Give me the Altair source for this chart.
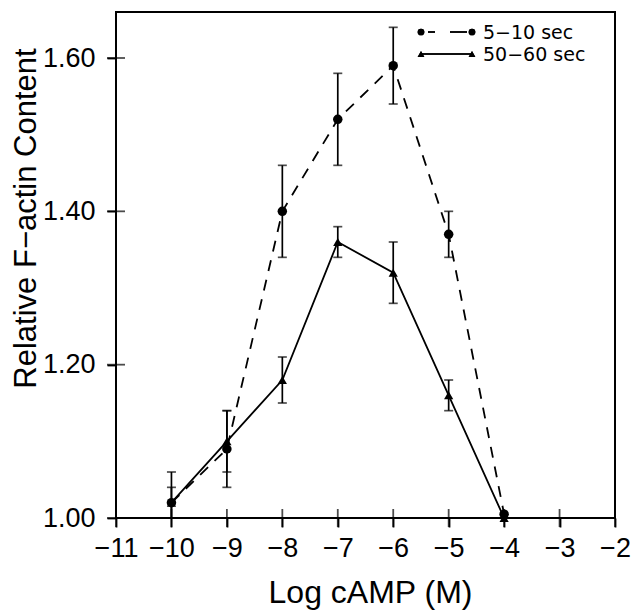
import altair as alt
import pandas as pd

# ---- data ----
log_camp = [-10, -9, -8, -7, -6, -5, -4]
series_names = ["5−10 sec", "50−60 sec"]
early_mean = [1.02, 1.09, 1.40, 1.52, 1.59, 1.37, 1.005]
early_err = [0.04, 0.05, 0.06, 0.06, 0.05, 0.03, 0.0]
late_mean = [1.02, 1.10, 1.18, 1.36, 1.32, 1.16, 1.00]
late_err = [0.02, 0.04, 0.03, 0.02, 0.04, 0.02, 0.0]
x_ticks = [-11, -10, -9, -8, -7, -6, -5, -4, -3, -2]
y_ticks = [1.00, 1.20, 1.40, 1.60]

rows = []
for name, means, errs in [(series_names[0], early_mean, early_err),
                          (series_names[1], late_mean, late_err)]:
    for xv, mv, ev in zip(log_camp, means, errs):
        rows.append({"series": name, "x": xv, "y": mv,
                     "lo": mv - ev, "hi": mv + ev, "err": ev})
df = pd.DataFrame(rows)
xt_df = pd.DataFrame({"t": x_ticks})
yt_df = pd.DataFrame({"t": y_ticks})

W, H = 499, 506
FONT = "Liberation Sans"

xs = alt.Scale(domain=[-11, -2], nice=False, zero=False)
ys = alt.Scale(domain=[1.0, 1.66], nice=False, zero=False)

x_axis = alt.Axis(values=x_ticks, format="d", title="Log cAMP (M)", grid=False,
                  domain=False, ticks=True, tickSize=9, tickWidth=1.8,
                  tickColor="black", labelFont=FONT, labelFontSize=27,
                  labelColor="black", labelPadding=8, labelFlush=False,
                  titleFont=FONT, titleFontSize=32, titleFontWeight="normal",
                  titleColor="black", titleX=254, titleY=84,
                  titleBaseline="alphabetic", titleAlign="center")
y_axis = alt.Axis(values=y_ticks, format=".2f", title="Relative F−actin Content",
                  grid=False, domain=False, ticks=True, tickSize=9,
                  tickWidth=1.8, tickColor="black", labelFont=FONT,
                  labelFontSize=27, labelColor="black", labelPadding=12,
                  labelFlush=False, titleFont=FONT, titleFontSize=31,
                  titleFontWeight="normal", titleColor="black", titleAngle=270,
                  titleX=-81, titleY=206, titleBaseline="alphabetic",
                  titleAlign="center")

X = alt.X("x:Q", scale=xs, axis=x_axis)
Y = alt.Y("y:Q", scale=ys, axis=y_axis)

base = alt.Chart(df)

# inner halves of the crossing ticks
xticks_layer = alt.Chart(xt_df).mark_tick(orient="vertical", size=18, thickness=1.8,
                                          color="black").encode(
    x=alt.X("t:Q", scale=xs, axis=x_axis), y=alt.value(H))
yticks_layer = alt.Chart(yt_df).mark_tick(orient="horizontal", size=18, thickness=1.8,
                                          color="black").encode(
    y=alt.Y("t:Q", scale=ys, axis=y_axis), x=alt.value(0))

early = base.transform_filter(alt.datum.series == series_names[0])
late = base.transform_filter(alt.datum.series == series_names[1])

line_early = early.mark_line(color="black", strokeWidth=1.8,
                             strokeDash=[11, 9]).encode(x=X, y=Y)
line_late = late.mark_line(color="black", strokeWidth=1.8).encode(x=X, y=Y)

eb = base.transform_filter(alt.datum.err > 0)
err_rule = eb.mark_rule(color="black", strokeWidth=1.7, clip=True).encode(
    x=X, y=alt.Y("lo:Q", scale=ys, axis=y_axis), y2="hi:Q")
cap_lo = eb.mark_tick(orient="horizontal", size=9, thickness=1.7, color="black",
                      clip=True).encode(x=X, y=alt.Y("lo:Q", scale=ys, axis=y_axis))
cap_hi = eb.mark_tick(orient="horizontal", size=9, thickness=1.7, color="black",
                      clip=True).encode(x=X, y=alt.Y("hi:Q", scale=ys, axis=y_axis))

pts_early = early.mark_point(shape="circle", filled=True, size=90, color="black",
                             opacity=1).encode(x=X, y=Y)
pts_late = late.mark_point(shape="triangle-up", filled=True, size=85, color="black",
                           opacity=1).encode(x=X, y=Y)

# ---- legend (inside the plot, top right) ----
leg_df = pd.DataFrame({"series": series_names})
leg = alt.Chart(leg_df)
r1, r2 = 20, 42
lx0, lx1, ltx = 305, 356, 367
leg_layers = [
    leg.mark_point(shape="circle", filled=True, size=45, color="black", opacity=1)
       .encode(x=alt.value(lx0), y=alt.value(r1)),
    leg.mark_point(shape="circle", filled=True, size=45, color="black", opacity=1)
       .encode(x=alt.value(lx1), y=alt.value(r1)),
    leg.mark_rule(color="black", strokeWidth=1.6, strokeDash=[7, 15, 17, 100])
       .encode(x=alt.value(312), x2=alt.value(351), y=alt.value(r1)),
    leg.mark_point(shape="triangle-up", filled=True, size=45, color="black", opacity=1)
       .encode(x=alt.value(lx0), y=alt.value(r2)),
    leg.mark_point(shape="triangle-up", filled=True, size=45, color="black", opacity=1)
       .encode(x=alt.value(lx1), y=alt.value(r2)),
    leg.mark_rule(color="black", strokeWidth=1.6)
       .encode(x=alt.value(lx0), x2=alt.value(lx1), y=alt.value(r2)),
    leg.transform_filter(alt.datum.series == series_names[0])
       .mark_text(align="left", baseline="middle", font="DejaVu Sans", fontSize=19,
                  color="black")
       .encode(x=alt.value(ltx), y=alt.value(r1 + 1), text="series:N"),
    leg.transform_filter(alt.datum.series == series_names[1])
       .mark_text(align="left", baseline="middle", font="DejaVu Sans", fontSize=19,
                  color="black")
       .encode(x=alt.value(ltx), y=alt.value(r2 + 1), text="series:N"),
]

chart = alt.layer(
    xticks_layer, yticks_layer, line_early, line_late, err_rule, cap_lo, cap_hi,
    pts_early, pts_late, *leg_layers
).properties(
    width=W, height=H,
    autosize=alt.AutoSizeParams(type="none"),
    padding={"left": 116, "top": 12, "right": 19, "bottom": 92},
    background="white",
).configure_view(stroke="black", strokeWidth=2)

chart.save("out.html", embed_options={"renderer": "svg", "actions": False})
